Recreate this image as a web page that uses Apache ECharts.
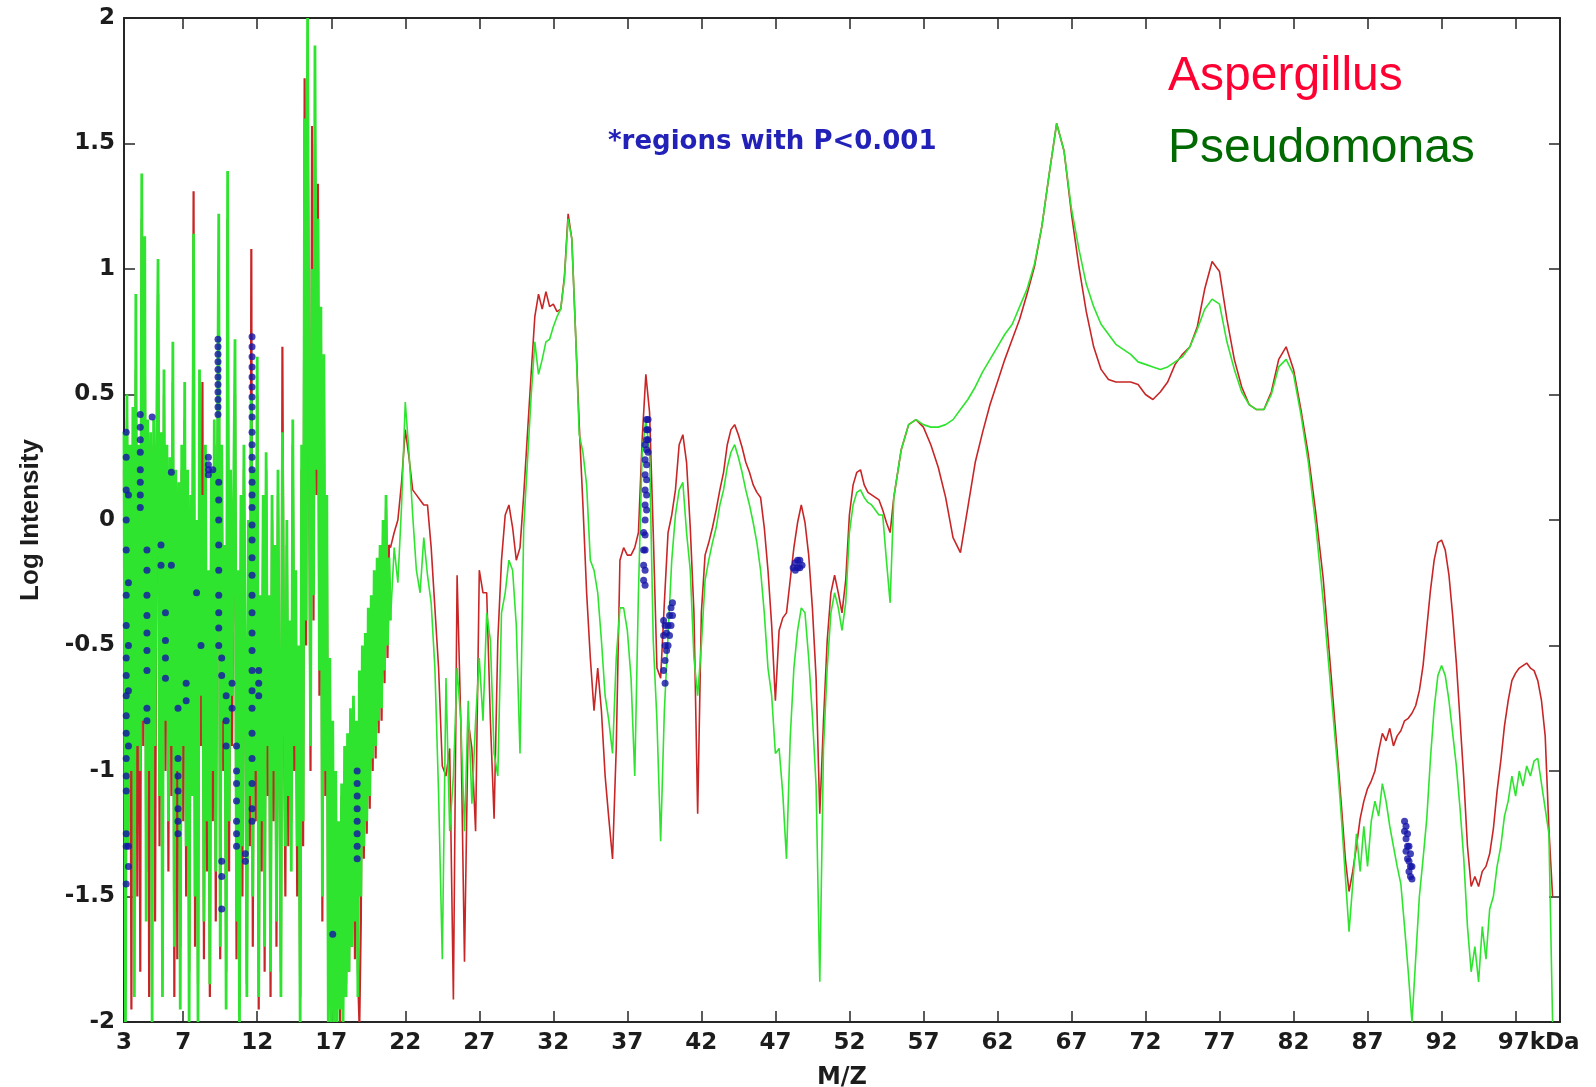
<!DOCTYPE html>
<html>
<head>
<meta charset="utf-8">
<script src="https://cdn.jsdelivr.net/npm/echarts@6.0.0/dist/echarts.min.js"></script>
<style>
  html, body { margin: 0; padding: 0; background: #ffffff; }
  #chart { width: 1596px; height: 1087px; }
</style>
</head>
<body>
<div id="chart"></div>
<script>
// Mass spectra (log intensity vs. m/z in kDa) for two organisms.
// Each spectrum is stored in four sampled segments: first m/z and spacing per segment.
const segStart = [3.0, 21.0, 55.0, 85.25];
const segStep  = [0.1, 0.25, 0.5, 0.25];

// Aspergillus, segment 1 (3.0 - 20.9 kDa, noisy low-mass region)
const aspergillus1 = [
  0.2, -1.7, 0.4, -1.2, 0.25, -1.95, 0.3, -1.0, 0.6, -1.5,
  0.1, -1.8, 1.2, -0.9, 0.9, -1.4, 0.3, -1.9, 0.2, -1.2,
  0.3, -1.6, 0.1, 0.9, -1.3, 0.2, -1.65, 0.5, -1.0, 0.2,
  -1.4, 0.1, -1.1, 0.55, -1.9, 0.15, -1.75, 0.0, -1.7, 0.2,
  -1.2, 0.4, -1.5, 0.1, -1.8, 0.0, -0.9, 1.31, -1.7, -0.1,
  -1.85, 0.45, -0.9, 0.55, -1.75, 0.2, -1.4, -0.3, -1.9, 0.1,
  -1.2, 0.3, -1.6, 0.0, 1.0, -1.75, 0.2, -1.0, -0.2, -1.8,
  1.2, -1.4, 0.1, -0.9, -0.1, 0.5, -1.75, -0.3, -1.9, 0.0,
  -1.5, 0.2, -0.8, -1.85, -0.1, -1.3, 1.08, -1.7, 0.1, -1.2,
  0.5, -1.95, -0.4, -1.4, 0.0, -1.8, 0.2, -1.1, -0.4, -1.9,
  0.0, -1.2, -0.2, -1.7, 0.1, -1.0, -1.8, 0.69, -0.7, -1.5,
  -0.1, -1.3, -0.5, -1.2, 0.3, -1.0, -0.3, -1.5, -0.6, -1.9,
  0.2, -1.3, 1.76, -0.5, 1.7, 0.4, -1.0, 1.57, -0.4, 1.5,
  0.1, 1.34, -0.7, 0.8, -1.6, 0.6, -1.1, 0.0, -1.9, -0.6,
  -1.9, -0.9, -2.0, -1.1, -1.9, -1.3, -2.0, -1.1, -1.9, -1.0,
  -1.85, -0.9, -1.8, -0.8, -1.7, -0.75, -1.75, -1.0, -1.8, -2.0,
  -1.6, -0.55, -1.35, -0.5, -1.25, -0.4, -1.15, -0.35, -1.0, -0.25,
  -0.95, -0.2, -0.85, -0.1, -0.8, -0.05, -0.65, 0.05, -0.55, -0.1
];

// Pseudomonas, segment 1 (3.0 - 20.9 kDa)
const pseudomonas1 = [
  0.35, -2.0, 0.5, -1.3, 0.3, -1.0, 0.45, -1.9, 0.9, -0.9,
  0.3, -1.0, 1.38, -0.8, 1.13, -1.6, 0.4, -1.0, 0.35, -2.0,
  0.4, -0.9, 0.3, 1.04, -1.1, 0.35, -1.9, 0.6, -0.8, 0.3,
  -1.2, 0.25, -0.9, 0.71, -1.7, 0.2, -1.0, 0.15, -1.95, 0.3,
  -0.9, 0.55, -1.3, 0.2, -2.0, 0.1, -1.1, 1.14, -1.5, 0.0,
  -2.0, 0.6, -0.7, 0.1, -1.6, 0.3, -1.2, -0.2, -1.85, 0.2,
  -1.0, 0.4, -1.4, 0.1, 1.22, -1.7, 0.3, -0.8, -0.1, -1.95,
  1.39, -1.2, 0.2, -0.7, 0.05, 0.72, -1.6, -0.2, -2.0, 0.1,
  -1.3, 0.3, -0.6, -1.9, 0.0, -1.1, 0.5, -1.5, 0.2, -1.0,
  0.65, -1.9, -0.3, -1.2, 0.1, -1.7, 0.27, -0.9, -0.3, -1.8,
  0.1, -1.0, -0.1, -1.6, 0.2, -0.8, -1.9, 0.35, -0.6, -1.3,
  0.0, -1.1, -0.4, -1.4, 0.4, -0.9, -0.2, -1.3, -0.5, -2.0,
  0.3, -1.2, 1.6, -0.4, 2.0, 0.5, -0.9, 1.0, -0.3, 1.89,
  0.2, 1.2, -0.6, 0.85, -1.5, 0.66, -1.0, 0.1, -2.0, -0.55,
  -2.0, -0.8, -2.0, -1.0, -2.0, -1.2, -1.95, -1.05, -2.0, -0.9,
  -1.9, -0.85, -1.8, -0.75, -1.7, -0.7, -1.6, -0.8, -1.9, -0.6,
  -1.5, -0.5, -1.3, -0.45, -1.2, -0.35, -1.1, -0.3, -0.95, -0.2,
  -0.9, -0.15, -0.8, -0.1, -0.75, 0.0, -0.6, 0.1, -0.5, -0.15
];

// Segment 2 (21.0 - 54.75 kDa), four samples per kDa
const aspergillus2 = [
  -0.11, -0.05, 0.0, 0.15,
  0.36, 0.25, 0.12, 0.10,
  0.08, 0.06, 0.06, -0.11,
  -0.35, -0.59, -0.98, -1.02,
  -0.91, -1.91, -0.22, -0.80,
  -1.76, -0.80, -0.91, -1.24,
  -0.20, -0.29, -0.29, -0.80,
  -1.19, -0.48, -0.16, 0.02,
  0.06, -0.03, -0.16, -0.11,
  0.10, 0.34, 0.58, 0.81,
  0.90, 0.84, 0.91, 0.85,
  0.86, 0.83, 0.84, 0.97,
  1.22, 1.12, 0.75, 0.38,
  0.06, -0.29, -0.55, -0.76,
  -0.59, -0.76, -1.02, -1.19,
  -1.35, -0.91, -0.16, -0.11,
  -0.14, -0.14, -0.11, -0.05,
  0.32, 0.58, 0.43, -0.05,
  -0.59, -0.63, -0.33, -0.05,
  0.02, 0.12, 0.30, 0.34,
  0.23, -0.03, -0.37, -1.17,
  -0.37, -0.14, -0.09, -0.03,
  0.04, 0.12, 0.19, 0.30,
  0.36, 0.38, 0.34, 0.29,
  0.23, 0.19, 0.14, 0.11,
  0.09, -0.03, -0.20, -0.42,
  -0.72, -0.44, -0.39, -0.37,
  -0.24, -0.11, -0.01, 0.06,
  -0.01, -0.14, -0.35, -0.63,
  -1.17, -0.80, -0.48, -0.29,
  -0.22, -0.29, -0.37, -0.24,
  0.02, 0.14, 0.19, 0.20,
  0.14, 0.11, 0.10, 0.09,
  0.08, 0.04, -0.01, -0.05
];
const pseudomonas2 = [
  -0.40, -0.11, -0.25, 0.06,
  0.47, 0.27, 0.02, -0.20,
  -0.29, -0.07, -0.22, -0.33,
  -0.59, -1.09, -1.75, -0.63,
  -1.24, -1.02, -0.59, -0.80,
  -1.24, -0.72, -1.13, -0.80,
  -0.55, -0.80, -0.37, -0.48,
  -0.93, -1.02, -0.37, -0.29,
  -0.16, -0.20, -0.42, -0.93,
  -0.03, 0.23, 0.49, 0.71,
  0.58, 0.64, 0.71, 0.72,
  0.77, 0.81, 0.84, 0.96,
  1.20, 1.12, 0.75, 0.34,
  0.27, 0.14, -0.16, -0.20,
  -0.29, -0.48, -0.70, -0.80,
  -0.93, -0.55, -0.35, -0.35,
  -0.44, -0.63, -1.02, -0.29,
  0.27, 0.40, 0.27, -0.48,
  -0.80, -1.28, -0.76, -0.46,
  -0.16, 0.02, 0.12, 0.15,
  -0.05, -0.20, -0.55, -0.70,
  -0.50, -0.24, -0.16, -0.09,
  -0.03, 0.06, 0.12, 0.21,
  0.27, 0.30, 0.25, 0.19,
  0.12, 0.06, -0.01, -0.09,
  -0.20, -0.37, -0.59, -0.70,
  -0.93, -0.91, -1.09, -1.35,
  -0.87, -0.59, -0.44, -0.35,
  -0.37, -0.55, -0.78, -1.06,
  -1.84, -0.91, -0.59, -0.37,
  -0.29, -0.35, -0.44, -0.33,
  -0.05, 0.06, 0.11, 0.12,
  0.09, 0.07, 0.06, 0.04,
  0.02, 0.02, -0.16, -0.33
];

// Segment 3 (55 - 85 kDa), two samples per kDa
const aspergillus3 = [
  0.09, 0.28, 0.38, 0.40, 0.37, 0.30, 0.21, 0.09, -0.07, -0.13,
  0.05, 0.23, 0.35, 0.46, 0.55, 0.64, 0.72, 0.80, 0.90, 1.01,
  1.17, 1.38, 1.58, 1.47, 1.22, 1.01, 0.83, 0.69, 0.60, 0.56,
  0.55, 0.55, 0.55, 0.54, 0.50, 0.48, 0.51, 0.55, 0.62, 0.66,
  0.69, 0.77, 0.92, 1.03, 0.99, 0.80, 0.64, 0.53, 0.46, 0.44,
  0.44, 0.51, 0.64, 0.69, 0.60, 0.44, 0.26, 0.03, -0.23, -0.59,
  -0.96
];
const pseudomonas3 = [
  0.09, 0.28, 0.38, 0.40, 0.38, 0.37, 0.37, 0.38, 0.40, 0.44,
  0.48, 0.53, 0.59, 0.64, 0.69, 0.74, 0.78, 0.85, 0.92, 1.02,
  1.17, 1.38, 1.58, 1.47, 1.24, 1.08, 0.94, 0.85, 0.78, 0.74,
  0.70, 0.68, 0.66, 0.63, 0.62, 0.61, 0.60, 0.61, 0.63, 0.65,
  0.69, 0.76, 0.84, 0.88, 0.86, 0.71, 0.60, 0.51, 0.46, 0.44,
  0.44, 0.50, 0.61, 0.64, 0.58, 0.42, 0.23, -0.02, -0.32, -0.66,
  -1.00
];

// Segment 4 (85.25 - 99.5 kDa), four samples per kDa
const aspergillus4 = [
  -1.15, -1.35, -1.48,
  -1.40, -1.30, -1.19, -1.12,
  -1.07, -1.04, -1.00, -0.92,
  -0.85, -0.88, -0.83, -0.90,
  -0.86, -0.84, -0.80, -0.79,
  -0.77, -0.74, -0.68, -0.58,
  -0.43, -0.28, -0.16, -0.09,
  -0.08, -0.12, -0.22, -0.38,
  -0.57, -0.80, -1.03, -1.30,
  -1.46, -1.42, -1.46, -1.40,
  -1.38, -1.33, -1.23, -1.08,
  -0.96, -0.82, -0.72, -0.64,
  -0.61, -0.59, -0.58, -0.57,
  -0.59, -0.60, -0.64, -0.72,
  -0.86, -1.23, -1.50
];
const pseudomonas4 = [
  -1.20, -1.42, -1.64,
  -1.45, -1.25, -1.40, -1.22,
  -1.38, -1.20, -1.12, -1.18,
  -1.05, -1.12, -1.22, -1.30,
  -1.38, -1.45, -1.62, -1.80,
  -2.00, -1.75, -1.50, -1.35,
  -1.19, -0.95, -0.75, -0.62,
  -0.58, -0.62, -0.72, -0.85,
  -0.98, -1.15, -1.35, -1.62,
  -1.80, -1.70, -1.84, -1.62,
  -1.75, -1.55, -1.50, -1.38,
  -1.30, -1.18, -1.12, -1.02,
  -1.10, -1.00, -1.06, -0.98,
  -1.02, -0.96, -0.95, -1.05,
  -1.15, -1.25, -2.00
];

// Points flagged as significant (P < 0.001): [m/z, list of log intensities]
const significant = [
  [3.15, [0.35, 0.25, 0.12, 0.0, -0.12, -0.3, -0.42, -0.55, -0.62, -0.7, -0.78, -0.85, -0.95, -1.02, -1.08, -1.25, -1.3, -1.45]],
  [3.3,  [0.1, -0.25, -0.5, -0.68, -0.9, -1.3, -1.38]],
  [4.1,  [0.42, 0.37, 0.32, 0.27, 0.2, 0.15, 0.1, 0.05]],
  [4.55, [-0.12, -0.2, -0.3, -0.38, -0.45, -0.52, -0.6, -0.75, -0.8]],
  [4.9,  [0.41]],
  [5.5,  [-0.1, -0.18]],
  [5.8,  [-0.37, -0.48, -0.55, -0.63]],
  [6.2,  [0.19, -0.18]],
  [6.65, [-0.75, -0.95, -1.02, -1.08, -1.15, -1.2, -1.25]],
  [7.2,  [-0.65, -0.72]],
  [7.9,  [-0.29]],
  [8.2,  [-0.5]],
  [8.7,  [0.25, 0.22, 0.2, 0.18]],
  [9.0,  [0.2]],
  [9.35, [0.72, 0.69, 0.66, 0.63, 0.6, 0.57, 0.54, 0.51, 0.48, 0.45, 0.42]],
  [9.4,  [0.15, 0.08, 0.0, -0.1, -0.2, -0.3, -0.37, -0.43, -0.5]],
  [9.6,  [-0.55, -0.62, -1.36, -1.42, -1.55]],
  [9.9,  [-0.7, -0.8, -0.9]],
  [10.3, [-0.65, -0.75]],
  [10.6, [-0.9, -1.0, -1.05, -1.12, -1.2, -1.25, -1.3]],
  [11.2, [-1.33, -1.36]],
  [11.65, [0.73, 0.69, 0.65, 0.61, 0.57, 0.53, 0.49, 0.45, 0.41, 0.35, 0.3, 0.25, 0.2, 0.15, 0.1, 0.05,
           -0.02, -0.08, -0.15, -0.22, -0.3, -0.37, -0.45, -0.52, -0.6, -0.68, -0.75, -0.85, -0.95, -1.05, -1.15, -1.2]],
  [12.1, [-0.6, -0.65, -0.7]],
  [17.1, [-1.65]],
  [18.75, [-1.0, -1.05, -1.1, -1.15, -1.2, -1.25, -1.3, -1.35]],
  [38.1, [-0.05, -0.12, -0.18, -0.24]],
  [38.2, [0.3, 0.24, 0.18, 0.12, 0.06, 0.0, -0.06, -0.12, -0.2, -0.26]],
  [38.3, [0.40, 0.36, 0.32, 0.28, 0.22, 0.16, 0.1, 0.04]],
  [38.4, [0.40, 0.36, 0.32, 0.27]],
  [39.45, [-0.4, -0.46, -0.6]],
  [39.55, [-0.42, -0.5, -0.56, -0.65]],
  [39.65, [-0.45, -0.52]],
  [39.75, [-0.42, -0.5]],
  [39.85, [-0.38, -0.46]],
  [39.95, [-0.35, -0.42]],
  [40.05, [-0.33, -0.38]],
  [48.2, [-0.19]],
  [48.35, [-0.17, -0.2]],
  [48.5, [-0.16, -0.19]],
  [48.65, [-0.16, -0.19]],
  [48.8, [-0.18]],
  [89.5, [-1.2, -1.24]],
  [89.6, [-1.22, -1.27, -1.32]],
  [89.7, [-1.25, -1.3, -1.35]],
  [89.8, [-1.3, -1.36, -1.4]],
  [89.9, [-1.33, -1.38, -1.42]],
  [90.0, [-1.38, -1.43]]
];

const mzTicks = [3, 7, 12, 17, 22, 27, 32, 37, 42, 47, 52, 57, 62, 67, 72, 77, 82, 87, 92, 97];

function buildSegments(segments, firstSeg) {
  const pts = [];
  segments.forEach((vals, k) => {
    const s = firstSeg + k;
    vals.forEach((v, i) => {
      pts.push([+(segStart[s] + i * segStep[s]).toFixed(3), v]);
    });
  });
  return pts;
}

// The dense low-mass part is drawn with a heavier stroke; it is joined to the first
// sample of segment 2 so the trace stays continuous.
const aspLow = buildSegments([aspergillus1], 0).concat([[segStart[1], aspergillus2[0]]]);
const aspHigh = buildSegments([aspergillus2, aspergillus3, aspergillus4], 1);
const psLow = buildSegments([pseudomonas1], 0).concat([[segStart[1], pseudomonas2[0]]]);
const psHigh = buildSegments([pseudomonas2, pseudomonas3, pseudomonas4], 1);

const significantData = [];
significant.forEach(([mz, list]) => list.forEach(v => significantData.push([mz, v])));

const tickFont = {
  fontFamily: 'DejaVu Sans',
  fontWeight: 'bold',
  fontSize: 23,
  color: '#1c1c1c'
};
const frameLine = { show: true, onZero: false, lineStyle: { color: '#262626', width: 2 } };
const innerTick = { show: true, inside: true, length: 11, lineStyle: { color: '#262626', width: 1.5 } };

const redColor = '#c82626';
const greenColor = '#2ee42e';

function trace(name, data, color, width, z) {
  return {
    name: name,
    type: 'line',
    data: data,
    showSymbol: false,
    symbol: 'none',
    lineStyle: { color: color, width: width },
    clip: true,
    z: z
  };
}

const chart = echarts.init(document.getElementById('chart'), null, { renderer: 'canvas' });

chart.setOption({
  animation: false,
  backgroundColor: '#ffffff',
  grid: {
    left: 124, top: 18, width: 1436, height: 1004,
    show: false,
    containLabel: false,
    outerBoundsMode: 'none'
  },
  xAxis: [
    {
      type: 'value',
      position: 'bottom',
      min: 3,
      max: 100,
      axisLine: frameLine,
      axisTick: Object.assign({}, innerTick, { customValues: mzTicks }),
      axisLabel: Object.assign({}, tickFont, {
        customValues: mzTicks,
        margin: 10,
        formatter: v => (v === 97 ? '{u|97kDa}' : String(v)),
        rich: {
          u: Object.assign({}, tickFont, { padding: [0, 0, 0, 46] })
        }
      }),
      splitLine: { show: false },
      name: 'M/Z',
      nameLocation: 'middle',
      nameGap: 44,
      nameTextStyle: Object.assign({}, tickFont, { fontSize: 24 })
    },
    {
      type: 'value',
      position: 'top',
      min: 3,
      max: 100,
      axisLine: frameLine,
      axisTick: Object.assign({}, innerTick, { customValues: mzTicks }),
      axisLabel: { show: false },
      splitLine: { show: false }
    }
  ],
  yAxis: [
    {
      type: 'value',
      position: 'left',
      min: -2,
      max: 2,
      interval: 0.5,
      axisLine: frameLine,
      axisTick: innerTick,
      axisLabel: Object.assign({}, tickFont, { margin: 9 }),
      splitLine: { show: false },
      name: 'Log Intensity',
      nameLocation: 'middle',
      nameGap: 80,
      nameRotate: 90,
      nameTextStyle: {
        fontFamily: 'Liberation Sans',
        fontWeight: 'bold',
        fontSize: 26,
        color: '#1c1c1c'
      }
    },
    {
      type: 'value',
      position: 'right',
      min: -2,
      max: 2,
      interval: 0.5,
      axisLine: frameLine,
      axisTick: innerTick,
      axisLabel: { show: false },
      splitLine: { show: false }
    }
  ],
  series: [
    trace('Aspergillus', aspLow, redColor, 2.2, 2),
    trace('Aspergillus', aspHigh, redColor, 1.6, 2),
    trace('Pseudomonas', psLow, greenColor, 2.8, 3),
    trace('Pseudomonas', psHigh, greenColor, 1.6, 3),
    {
      name: 'P<0.001',
      type: 'scatter',
      data: significantData,
      symbol: 'circle',
      symbolSize: 7,
      itemStyle: { color: '#1414a8' },
      z: 4
    }
  ],
  graphic: [
    {
      type: 'text',
      x: 608,
      y: 142,
      style: {
        text: '*regions with P<0.001',
        fontFamily: 'DejaVu Sans',
        fontWeight: 'bold',
        fontSize: 26,
        fill: '#2222b8',
        align: 'left', verticalAlign: 'middle',
        textAlign: 'left', textVerticalAlign: 'middle'
      }
    },
    {
      type: 'text',
      x: 1168,
      y: 77,
      style: {
        text: 'Aspergillus',
        fontFamily: 'Liberation Sans',
        fontSize: 48,
        fill: '#ff0033',
        align: 'left', verticalAlign: 'middle',
        textAlign: 'left', textVerticalAlign: 'middle'
      }
    },
    {
      type: 'text',
      x: 1168,
      y: 149,
      style: {
        text: 'Pseudomonas',
        fontFamily: 'Liberation Sans',
        fontSize: 48,
        fill: '#006a00',
        align: 'left', verticalAlign: 'middle',
        textAlign: 'left', textVerticalAlign: 'middle'
      }
    }
  ]
});
</script>
</body>
</html>
